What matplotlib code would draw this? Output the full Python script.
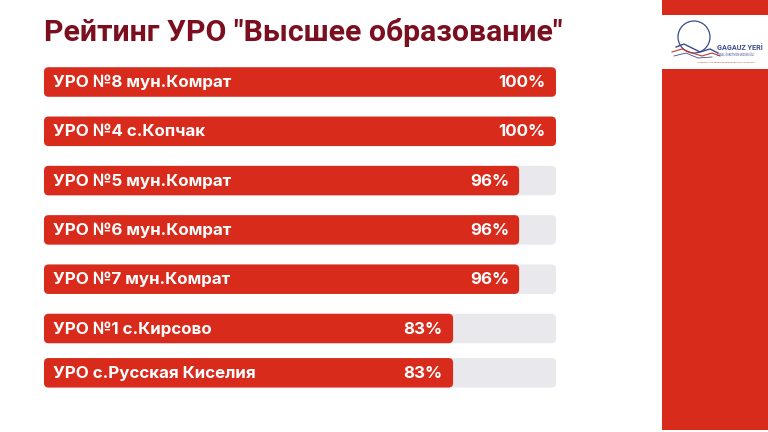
import numpy as np
import matplotlib
matplotlib.use('Agg')
import matplotlib.pyplot as plt
from matplotlib.patches import FancyBboxPatch, Rectangle, Circle

plt.rcParams['font.family'] = ['Roboto', 'DejaVu Sans']

title = 'Рейтинг УРО "Высшее образование"'
schools = ['УРО №8 мун.Комрат', 'УРО №4 с.Копчак', 'УРО №5 мун.Комрат',
           'УРО №6 мун.Комрат', 'УРО №7 мун.Комрат', 'УРО №1 с.Кирсово',
           'УРО с.Русская Киселия']
scores = [100, 100, 96, 96, 96, 83, 83]
# bar length as drawn on the slide (share of the grey track)
bar_fill = [100, 100, 92.8, 92.8, 92.8, 79.9, 79.9]

RED = '#d92b1c'
TRACK = '#e9e9ed'
TITLE_C = '#7b0f1f'
LOGO_BLUE = '#3c4a8c'

W, H = 768, 432
fig = plt.figure(figsize=(W / 100, H / 100), dpi=100)
fig.patch.set_facecolor('white')

# background layer in pixel units
bg = fig.add_axes([0, 0, 1, 1])
bg.set_xlim(0, W)
bg.set_ylim(H, 0)
bg.axis('off')
bg.add_patch(Rectangle((662, 0), W - 662, H - 2, color=RED, lw=0))
bg.add_patch(Rectangle((662, 15), W - 662, 54, color='white', lw=0))
# logo (simplified)
bg.add_patch(Circle((694, 37), 16, fill=False, ec=LOGO_BLUE, lw=0.9))
bg.plot([676, 684, 692, 700, 710, 718], [47, 44, 48, 52, 49, 53], color=LOGO_BLUE, lw=1.0)
bg.plot([672, 682, 692, 702, 712, 720], [52, 49, 53, 56, 53, 56], color='#c0392b', lw=0.8)
bg.plot([674, 686, 698, 712], [56, 53, 58, 57], color=LOGO_BLUE, lw=0.6)
bg.text(717, 50, 'GAGAUZ YERİ', fontsize=5.2, fontweight='bold', color=LOGO_BLUE)
bg.text(717, 55.5, 'GENEL ÖGRETMEN MÜDÜRLÜĞÜ', fontsize=1.8, color=LOGO_BLUE)
bg.text(697, 63, 'ГЛАВНОЕ УПРАВЛЕНИЕ ОБРАЗОВАНИЯ ГАГАУЗИИ', fontsize=1.7, color='#c0392b')

fig.text(44 / W, 1 - 41 / H, title, fontsize=21.8, fontweight='bold',
         color=TITLE_C, ha='left', va='baseline')

# bars: x in percent, y in pixels
x0, x1 = 44, 556
ax = fig.add_axes([x0 / W, 0, (x1 - x0) / W, 1])
ax.set_xlim(0, 100)
ax.set_ylim(H, 0)
ax.axis('off')

bar_h = 29.5
step = 49.3
ys = 82 + np.arange(len(schools)) * step
ys[-1] -= 5
aspect = (x1 - x0) / 100  # px per percent

lab_font = ['Inter', 'DejaVu Sans']
for y, name, sc, fill in zip(ys, schools, scores, bar_fill):
    ax.add_patch(FancyBboxPatch((0, y - bar_h / 2), 100, bar_h,
                                boxstyle='round,pad=0,rounding_size=0.9',
                                mutation_aspect=aspect, fc=TRACK, ec='none'))
    ax.add_patch(FancyBboxPatch((0, y - bar_h / 2), fill, bar_h,
                                boxstyle='round,pad=0,rounding_size=0.9',
                                mutation_aspect=aspect, fc=RED, ec='none'))
    ax.text(1.7, y + 0.5, name, color='white', fontsize=12.2, fontweight='bold',
            family=lab_font, ha='left', va='center')
    ax.text(fill - 2.0, y + 0.5, f'{sc}%', color='white', fontsize=12.2,
            fontweight='bold', family=lab_font, ha='right', va='center')

fig.savefig('out.png', dpi=100)
